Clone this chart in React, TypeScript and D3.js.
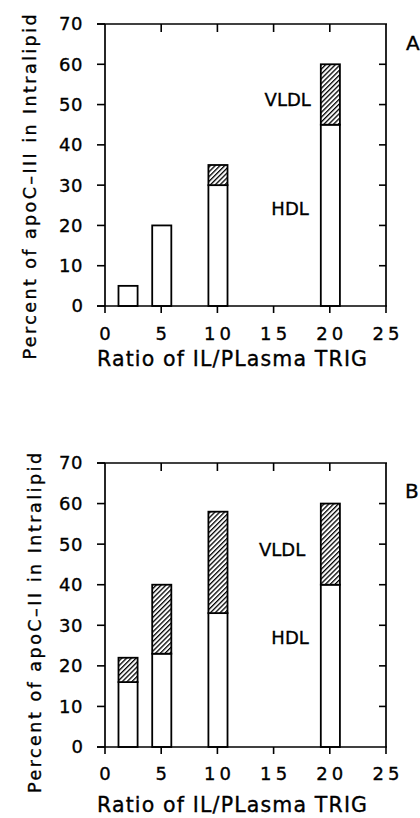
import React from "react";
import * as d3 from "d3";

const ratios = [2, 5, 10, 20];
const hdlA = [5, 20, 30, 45];
const totalA = [5, 20, 35, 60];
const hdlB = [16, 23, 33, 40];
const totalB = [22, 40, 58, 60];
const xTicks = [0, 5, 10, 15, 20, 25];
const yTicks = [0, 10, 20, 30, 40, 50, 60, 70];
const xTitle = "Ratio of IL/PLasma TRIG";
const yTitleA = "Percent of apoC–III in Intralipid";
const yTitleB = "Percent of apoC–II in Intralipid";
const panelLetters = ["A", "B"];
const segmentLabels = ["VLDL", "HDL"];

const FONT = "'DejaVu Sans', sans-serif";
const TXT = { fontFamily: FONT, fill: "#000", stroke: "#000", strokeWidth: 0.35 };

type PanelProps = {
  hdl: number[];
  total: number[];
  yTop: number;
  yBot: number;
  tickBase: number;
  titleBase: number;
  yTitle: string;
  yTitleX: number;
  yTitleY: number;
  yTitleLen: number;
  letter: string;
  letterX: number;
  letterY: number;
  vldlPos: [number, number];
  hdlPos: [number, number];
};

function Panel(p: PanelProps) {
  const x = d3.scaleLinear().domain([0, 25]).range([105, 386]);
  const y = d3.scaleLinear().domain([0, 70]).range([p.yBot, p.yTop]);
  const bw = 1.7;
  const sw = 1.8;
  return (
    <g>
      {ratios.map((r, i) => {
        const x0 = x(r - bw / 2 + 0.05);
        const x1 = x(r + bw / 2 + 0.05);
        return (
          <g key={i}>
            <rect x={x0} y={y(p.hdl[i])} width={x1 - x0} height={y(0) - y(p.hdl[i])} fill="#fff" stroke="#000" strokeWidth={sw} />
            {p.total[i] > p.hdl[i] && (
              <rect x={x0} y={y(p.total[i])} width={x1 - x0} height={y(p.hdl[i]) - y(p.total[i])} fill="url(#hatch)" stroke="#000" strokeWidth={sw} />
            )}
          </g>
        );
      })}
      <line x1={97} x2={387} y1={y(70)} y2={y(70)} stroke="#000" strokeWidth={1.7} />
      <line x1={97} x2={387} y1={y(0)} y2={y(0)} stroke="#000" strokeWidth={1.7} />
      <line x1={x(0)} x2={x(0)} y1={y(70)} y2={y(0)} stroke="#000" strokeWidth={1.7} />
      <line x1={x(25)} x2={x(25)} y1={y(70)} y2={y(0)} stroke="#000" strokeWidth={1.7} />
      {yTicks.map((t) => (
        <g key={"yl" + t}>
          <line x1={97} x2={x(0)} y1={y(t)} y2={y(t)} stroke="#000" strokeWidth={1.6} />
          <text
            x={t >= 10 ? 59 : 83}
            y={y(t)}
            dy="0.36em"
            textAnchor={t >= 10 ? "start" : "end"}
            fontSize={18}
            {...TXT}
            {...(t >= 10 ? { textLength: 23.5, lengthAdjust: "spacing" } : {})}
          >
            {t}
          </text>
        </g>
      ))}
      {yTicks.slice(1, -1).map((t) => (
        <line key={"yr" + t} x1={x(25) - 7} x2={x(25)} y1={y(t)} y2={y(t)} stroke="#000" strokeWidth={1.6} />
      ))}
      {xTicks.map((t) => (
        <g key={"xb" + t}>
          <line x1={x(t)} x2={x(t)} y1={y(0)} y2={y(0) + 7} stroke="#000" strokeWidth={1.6} />
          <text
            x={t >= 10 ? x(t) - 13.5 : x(t)}
            y={p.tickBase}
            textAnchor={t >= 10 ? "start" : "middle"}
            fontSize={18}
            {...TXT}
            {...(t >= 10 ? { textLength: 27, lengthAdjust: "spacing" } : {})}
          >
            {t}
          </text>
        </g>
      ))}
      {xTicks.slice(1, -1).map((t) => (
        <line key={"xt" + t} x1={x(t)} x2={x(t)} y1={y(70)} y2={y(70) + 8} stroke="#000" strokeWidth={1.6} />
      ))}
      <text x={x(0) - 8} y={p.titleBase} fontSize={20.5} {...TXT} textLength={270} lengthAdjust="spacing">
        {xTitle}
      </text>
      <text
        transform={`translate(${p.yTitleX},${p.yTitleY}) rotate(-90)`}
        textAnchor="middle"
        fontSize={17.5}
        {...TXT}
        textLength={p.yTitleLen}
        lengthAdjust="spacing"
      >
        {p.yTitle}
      </text>
      <text x={p.letterX} y={p.letterY} fontSize={20} {...TXT}>
        {p.letter}
      </text>
      <text x={x(p.vldlPos[0])} y={y(p.vldlPos[1])} fontSize={18} {...TXT}>
        {segmentLabels[0]}
      </text>
      <text x={x(p.hdlPos[0])} y={y(p.hdlPos[1])} fontSize={18} {...TXT}>
        {segmentLabels[1]}
      </text>
    </g>
  );
}

export default function App() {
  return (
    <svg
      width={420}
      height={818}
      viewBox="0 0 420 818"
      style={{ position: "absolute", left: 0, top: 0, display: "block", background: "#fff" }}
    >
      <defs>
        <pattern id="hatch" patternUnits="userSpaceOnUse" width={3.4} height={3.4} patternTransform="rotate(45)">
          <rect width={3.4} height={3.4} fill="#fff" />
          <line x1={0} y1={0} x2={0} y2={3.4} stroke="#000" strokeWidth={2.6} />
        </pattern>
      </defs>
      <Panel
        hdl={hdlA}
        total={totalA}
        yTop={24}
        yBot={306}
        tickBase={340}
        titleBase={366}
        yTitle={yTitleA}
        yTitleX={36}
        yTitleY={187}
        yTitleLen={345}
        letter={panelLetters[0]}
        letterX={406}
        letterY={50}
        vldlPos={[14.2, 49.6]}
        hdlPos={[14.8, 22.5]}
      />
      <Panel
        hdl={hdlB}
        total={totalB}
        yTop={463}
        yBot={747}
        tickBase={780}
        titleBase={812}
        yTitle={yTitleB}
        yTitleX={41}
        yTitleY={623}
        yTitleLen={340}
        letter={panelLetters[1]}
        letterX={405}
        letterY={498}
        vldlPos={[13.7, 47.2]}
        hdlPos={[14.8, 25.5]}
      />
    </svg>
  );
}
